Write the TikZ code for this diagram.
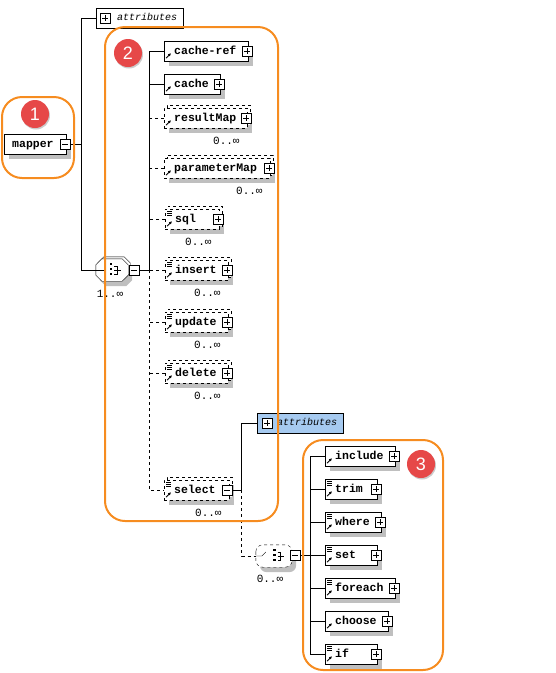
\documentclass[tikz,border=0pt]{standalone}
\usepackage{fontspec}
\setmonofont{Liberation Mono}
\setsansfont{Liberation Sans}
\usetikzlibrary{shadows,arrows.meta}

\definecolor{hlorange}{RGB}{246,140,32}
\definecolor{badgered}{RGB}{230,72,72}
\definecolor{attrblue}{RGB}{166,202,240}

\newcommand{\elemfont}{\fontsize{11.5}{13}\selectfont\ttfamily\bfseries}
\newcommand{\occfont}{\fontsize{11}{13}\selectfont\ttfamily}
\newcommand{\attrfont}{\fontsize{10}{12}\selectfont\ttfamily\itshape}

\tikzset{
  elem/.style={draw, fill=white, anchor=west, font=\elemfont, align=left,
    minimum height=20pt, inner xsep=10pt, inner ysep=0pt,
    text height=8pt, text depth=2pt,
    drop shadow={shadow xshift=5pt, shadow yshift=-5pt, fill=black!25, opacity=1, draw=none}},
  optelem/.style={elem, dashed,
    copy shadow={shadow xshift=3pt, shadow yshift=3pt, draw=black, dashed, fill=white}},
  attrbox/.style={draw, anchor=west, font=\attrfont, align=right,
    minimum height=20pt, inner xsep=6pt, inner ysep=0pt, text height=7pt, text depth=2pt},
  sign/.style={draw, solid, fill=white, minimum size=10pt, inner sep=0pt},
  plusbox/.style={sign, path picture={
    \draw ([yshift=-2pt]path picture bounding box.north) -- ([yshift=2pt]path picture bounding box.south)
          ([xshift=2pt]path picture bounding box.west) -- ([xshift=-2pt]path picture bounding box.east);}},
  minusbox/.style={sign, path picture={
    \draw ([xshift=2pt]path picture bounding box.west) -- ([xshift=-2pt]path picture bounding box.east);}},
  groupnode/.style={minimum width=32pt, minimum height=22pt, inner sep=0pt},
  groupshape/.style={draw, fill=white,
    drop shadow={shadow xshift=4pt, shadow yshift=-5pt, fill=black!25, opacity=1, draw=none}},
  occ/.style={font=\occfont, anchor=base, inner sep=0pt},
  badge/.style={circle, fill=badgered, text=white, minimum size=28pt, inner sep=0pt,
    font=\sffamily\fontsize{18}{20}\selectfont,
    drop shadow={shadow xshift=1pt, shadow yshift=-1.5pt, fill=black!40, opacity=.5, draw=none}},
  hl/.style={draw=hlorange, line width=2pt, rounded corners=20pt},
}

\begin{document}
\begin{tikzpicture}[x=1pt,y=-1pt]
\useasboundingbox (0,0) rectangle (556,673);

% root element
\node[elem, text width=46pt, inner xsep=8pt] (mapper) at (4,144) {mapper};
\node[minusbox] (mapperm) at ([xshift=-1pt]mapper.east) {};
\node[attrbox, text width=75pt] (attrs) at (96,18) {attributes};
\node[plusbox] (attrsp) at ([xshift=9pt]attrs.west) {};

% sequence
\node[groupnode] (seq) at (112,270) {};
\draw[groupshape, copy shadow={shadow xshift=2pt, shadow yshift=2pt, draw=black, fill=white}]
  ([xshift=6pt]seq.north west) -- ([xshift=-6pt]seq.north east) -- ([yshift=-6pt]seq.north east)
  -- ([yshift=6pt]seq.south east) -- ([xshift=-6pt]seq.south east) -- ([xshift=6pt]seq.south west)
  -- ([yshift=6pt]seq.south west) -- ([yshift=-6pt]seq.north west) -- cycle;
\node[minusbox] (seqm) at (134,270) {};
\node[occ] (seqocc) at ([xshift=-2pt,yshift=-16pt]seq.south) {1..∞};
\draw (seq.west) -- ++(9pt,0pt);
\foreach \k in {-5pt,0pt,5pt}
  \fill ([xshift=-2.5pt,yshift=\k]seq.center) rectangle ++(2.5pt,2.5pt);
\draw ([xshift=2pt,yshift=4pt]seq.center) -- ++(3pt,0pt) -- ++(0pt,-8pt) -- ++(-3pt,0pt)
      ([xshift=2pt]seq.center) -- ++(7pt,0pt);

% children of the sequence
\node[elem, text width=64pt] (cacheref) at (164,51) {cache-ref};
\node[elem, text width=36pt] (cache) at (164,84) {cache};
\node[optelem, text width=63pt] (resultmap) at (164,118) {resultMap};
\node[optelem, text width=86pt] (parametermap) at (164,168) {parameterMap};
\node[optelem, text width=34pt] (sql) at (165,219) {sql};
\node[optelem, text width=43pt] (insert) at (165,270) {insert};
\node[optelem, text width=43pt] (update) at (165,322) {update};
\node[optelem, text width=43pt] (delete) at (165,373) {delete};
\node[optelem, text width=45pt] (select) at (164,490) {select};
\foreach \n in {cacheref,cache,resultmap,parametermap,sql,insert,update,delete}
  \node[plusbox] (\n-p) at ([xshift=-1pt]\n.east) {};
\node[minusbox] (selectm) at ([xshift=-2pt]select.east) {};
\foreach \n in {resultmap,parametermap,sql,insert,update,delete,select}
  \node[occ] (\n-occ) at ([xshift=-21pt,yshift=-16pt]\n.south east) {0..∞};

% select content
\node[attrbox, text width=74pt, fill=attrblue] (attrsel) at (257,423) {attributes};
\node[plusbox] (attrselp) at ([xshift=10pt]attrsel.west) {};
\node[groupnode, minimum width=36pt] (choice) at (274,556) {};
\draw[groupshape, dashed, rounded corners=7pt] (choice.north west) rectangle (choice.south east);
\node[minusbox] (choicem) at (295,555) {};
\node[occ] (choiceocc) at ([xshift=-4pt,yshift=-15pt]choice.south) {0..∞};
\draw (choice.west) -- ++(6pt,0pt) -- ++(4pt,4pt);
\foreach \k in {-5pt,0pt,5pt}
  \fill ([xshift=-1pt,yshift=\k]choice.center) rectangle ++(2.5pt,2.5pt);
\draw ([xshift=3.5pt,yshift=4pt]choice.center) -- ++(3pt,0pt) -- ++(0pt,-8pt) -- ++(-3pt,0pt)
      ([xshift=3.5pt]choice.center) -- ++(6pt,0pt);

\node[elem, text width=50pt] (include) at (325,456) {include};
\node[elem, text width=32pt] (trim) at (325,489) {trim};
\node[elem, text width=36pt] (where) at (325,522) {where};
\node[elem, text width=32pt] (set) at (325,555) {set};
\node[elem, text width=50pt] (foreach) at (325,588) {foreach};
\node[elem, text width=43pt] (choose) at (325,621) {choose};
\node[elem, text width=32pt] (if) at (325,654) {if};
\foreach \n in {include,trim,where,set,foreach,choose,if}
  \node[plusbox] (\n-p) at ([xshift=-1pt]\n.east) {};

% icons
\foreach \n in {cacheref,cache,resultmap,parametermap,sql,insert,update,delete,select,
                include,trim,where,set,foreach,choose,if}
  \draw[solid, line width=.8pt, -{Latex[length=3pt,width=3pt]}]
    ([xshift=2pt,yshift=3pt]\n.south west) -- ++(5pt,5pt);
\foreach \n in {sql,insert,update,delete,select,trim,where,set,foreach,if}
  \foreach \k in {2pt,4pt,6pt}
    \draw[solid] ([xshift=2pt,yshift=-\k]\n.north west) -- ++(5pt,0pt);

% connectors
\coordinate (t1) at ([xshift=11pt]mapperm.east);
\draw (mapperm.east) -- (t1);
\draw (attrs.west) -| (t1) |- (seq.west);
\coordinate (t2) at ([xshift=10pt]seqm.east);
\draw (seqm.east) -- (t2);
\draw (cacheref.west) -| (t2);
\draw (cache.west) -- (t2 |- cache.west);
\draw[dashed] (t2) |- (select.west);
\foreach \n in {resultmap,parametermap,sql,insert,update,delete}
  \draw[dashed] (\n.west) -- (t2 |- \n.west);

\coordinate (t3) at ([xshift=9pt]selectm.east);
\draw (selectm.east) -- (t3);
\draw (attrsel.west) -| (t3);
\draw[dashed] (t3) |- (choice.west);
\coordinate (t4) at ([xshift=10pt]choicem.east);
\draw (choicem.east) -- (t4);
\draw (include.west) -| (t4) |- (if.west);
\foreach \n in {trim,where,set,foreach,choose}
  \draw (\n.west) -- (t4 |- \n.west);

% highlights
\draw[hl] (2,97) rectangle (74,178);
\draw[hl] (105,27) rectangle (278,521);
\draw[hl] (303,440) rectangle (443,670);
\node[badge] (b1) at (35,114) {1};
\node[badge] (b2) at (128,53) {2};
\node[badge] (b3) at (421,464) {3};
\end{tikzpicture}
\end{document}
